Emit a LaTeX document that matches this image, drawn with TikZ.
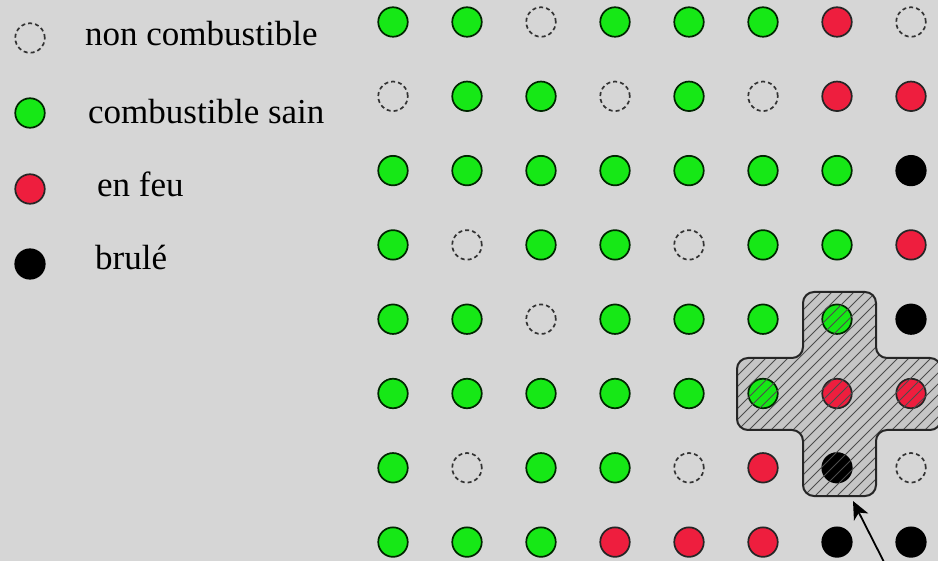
\documentclass[tikz,border=0pt]{standalone}
\usepackage{fontspec}
\setmainfont{Liberation Serif}
\usetikzlibrary{arrows.meta}
\definecolor{bg}{RGB}{214,214,214}
\definecolor{crossfill}{RGB}{198,198,198}
\definecolor{cgreen}{RGB}{22,232,22}
\definecolor{cred}{RGB}{238,30,62}
\tikzset{
  cell/.style={circle, minimum size=29.5pt, inner sep=0pt, line width=1.7pt},
  sain/.style={cell, draw=black!85!green, fill=cgreen},
  feu/.style={cell, draw=black!85, fill=cred},
  brule/.style={cell, draw=black, fill=black},
  noncomb/.style={cell, draw=black!80, dash pattern=on 4pt off 3pt},
  lbl/.style={anchor=base west, font=\fontsize{35}{40}\selectfont, inner sep=0pt},
  hatch/.style={draw=black!70, line width=1pt},
  crossline/.style={draw=black!85, line width=2pt, rounded corners=11pt},
}
\begin{document}
\begin{tikzpicture}[x=1pt,y=-1pt]
\fill[bg] (0,0) rectangle (938,561);
\useasboundingbox (0,0) rectangle (938,561);
\clip (0,0) rectangle (938,561);
\def\crosspath{(803,292) -- (876,292) -- (876,358) -- (941,358) -- (941,430) -- (876,430) -- (876,496) -- (803,496) -- (803,430) -- (737,430) -- (737,358) -- (803,358) -- cycle}
% cross fill
\fill[crossfill, rounded corners=11pt] \crosspath;
% legend
\node[noncomb] (l1) at (30,38) {};
\node[sain] (l2) at (30,113) {};
\node[feu] (l3) at (30,189) {};
\node[brule] (l4) at (30,264) {};
\node[lbl] (t1) at (85,46) {non combustible};
\node[lbl] (t2) at (88,124) {combustible sain};
\node[lbl] (t3) at (97,197) {en feu};
\node[lbl] (t4) at (95,270) {brulé};
% grid
\foreach \row [count=\r from 0] in {
  {sain,sain,noncomb,sain,sain,sain,feu,noncomb},
  {noncomb,sain,sain,noncomb,sain,noncomb,feu,feu},
  {sain,sain,sain,sain,sain,sain,sain,brule},
  {sain,noncomb,sain,sain,noncomb,sain,sain,feu},
  {sain,sain,noncomb,sain,sain,sain,sain,brule},
  {sain,sain,sain,sain,sain,sain,feu,feu},
  {sain,noncomb,sain,sain,noncomb,feu,brule,noncomb},
  {sain,sain,sain,feu,feu,feu,brule,brule}}{
  \foreach \t [count=\c from 0] in \row {
    \node[style/.expanded=\t] (c\r\c) at ({393+74*\c},{22+74.3*\r}) {};
  }
}
% hatching over the cross
\begin{scope}
  \clip[rounded corners=11pt] \crosspath;
  \foreach \i in {520,531,...,960} {
    \draw[hatch] (\i,505) -- ({\i+225},280);
  }
\end{scope}
\draw[crossline] \crosspath;
% arrow
\coordinate (atail) at (886,566);
\coordinate (atip) at (853,501);
\draw[line width=1.8pt, -{Stealth[length=18pt,width=16pt,inset=5pt]}] (atail) -- (atip);
\end{tikzpicture}
\end{document}
